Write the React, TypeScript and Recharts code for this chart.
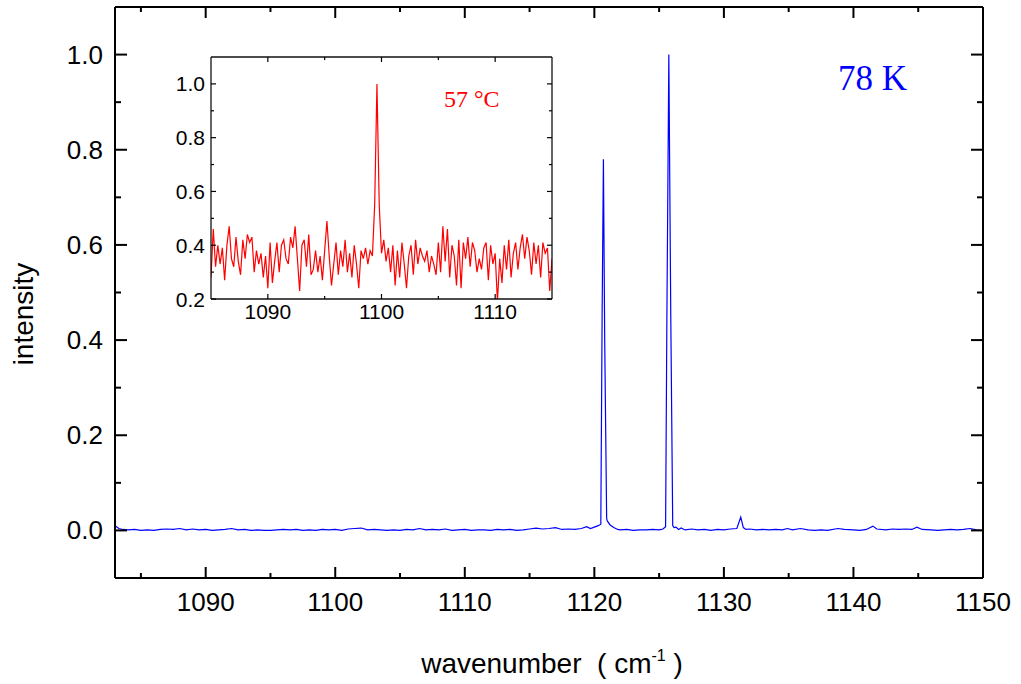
import React from 'react'
import { LineChart, Line, XAxis, YAxis } from 'recharts'

// main spectrum (78 K), wavenumber / normalised intensity
const MAIN_X = [
  1083.0, 1083.3, 1083.6, 1084.0, 1084.5, 1085.0, 1085.5, 1086.0, 1086.5, 1087.0,
  1087.5, 1088.0, 1088.5, 1089.0, 1089.5, 1090.0, 1090.5, 1091.0, 1091.5, 1092.0,
  1092.5, 1093.0, 1093.5, 1094.0, 1094.5, 1095.0, 1095.5, 1096.0, 1096.5, 1097.0,
  1097.5, 1098.0, 1098.5, 1099.0, 1099.5, 1100.0, 1100.5, 1101.0, 1101.5, 1102.0,
  1102.5, 1103.0, 1103.5, 1104.0, 1104.5, 1105.0, 1105.5, 1106.0, 1106.5, 1107.0,
  1107.5, 1108.0, 1108.5, 1109.0, 1109.5, 1110.0, 1110.5, 1111.0, 1111.5, 1112.0,
  1112.5, 1113.0, 1113.5, 1114.0, 1114.5, 1115.0, 1115.5, 1116.0, 1116.5, 1117.0,
  1117.5, 1118.0, 1118.5, 1119.0, 1119.4, 1119.7, 1120.0, 1120.3, 1120.5, 1120.6,
  1120.7, 1120.8, 1120.95, 1121.0, 1121.2, 1121.5, 1121.8, 1122.0, 1122.5, 1123.0,
  1123.5, 1124.0, 1124.5, 1125.0, 1125.3, 1125.5, 1125.6, 1125.75, 1125.9, 1126.05,
  1126.15, 1126.3, 1126.5, 1126.7, 1127.0, 1127.5, 1128.0, 1128.5, 1129.0, 1129.5,
  1130.0, 1130.5, 1131.0, 1131.3, 1131.5, 1131.7, 1132.0, 1132.5, 1133.0, 1133.5,
  1134.0, 1134.5, 1134.9, 1135.3, 1135.9, 1136.5, 1137.0, 1137.5, 1138.0, 1138.8,
  1139.3, 1140.0, 1140.5, 1141.0, 1141.5, 1141.8, 1142.5, 1143.0, 1143.5, 1144.0,
  1144.5, 1144.9, 1145.3, 1146.0, 1146.5, 1147.0, 1147.5, 1148.0, 1148.5, 1149.0,
  1149.5, 1150.0,
]
const MAIN_Y = [
  0.010, 0.004, 0.002, 0.001, 0.002, 0.000, 0.001, 0.000, 0.002, 0.003,
  0.002, 0.004, 0.001, 0.003, 0.001, 0.002, 0.000, 0.001, 0.002, 0.004,
  0.001, 0.002, 0.000, 0.001, 0.000, 0.000, 0.001, 0.002, 0.001, 0.002,
  0.000, 0.001, 0.000, 0.002, 0.001, 0.002, 0.000, 0.003, 0.004, 0.005,
  0.001, 0.002, 0.001, 0.000, 0.001, 0.000, 0.002, 0.001, 0.004, 0.001,
  0.002, 0.001, 0.003, 0.000, 0.001, 0.002, 0.000, 0.001, 0.001, 0.000,
  0.002, 0.001, 0.002, 0.000, 0.001, 0.003, 0.005, 0.003, 0.004, 0.006,
  0.002, 0.003, 0.002, 0.004, 0.008, 0.004, 0.007, 0.010, 0.013, 0.45,
  0.78, 0.40, 0.025, 0.020, 0.012, 0.006, 0.002, 0.001, 0.002, 0.000,
  0.001, 0.001, 0.002, 0.001, 0.003, 0.008, 0.45, 1.0, 0.45, 0.010,
  0.006, 0.007, 0.002, 0.005, 0.001, 0.003, 0.001, 0.002, 0.000, 0.002,
  0.001, 0.003, 0.004, 0.028, 0.006, 0.002, 0.003, 0.001, 0.002, 0.001,
  0.002, 0.001, 0.004, 0.001, 0.004, 0.001, 0.000, 0.001, 0.000, 0.004,
  0.002, 0.001, 0.000, 0.002, 0.009, 0.003, 0.001, 0.003, 0.002, 0.003,
  0.002, 0.007, 0.002, 0.001, 0.000, 0.001, 0.002, 0.001, 0.002, 0.004,
  0.001, 0.000,
]

// inset spectrum (57 °C), sampled every 0.2 cm-1 from 1085
const INSET_START = 1085
const INSET_STEP = 0.2
const INSET_Y = [
  0.28, 0.46, 0.32, 0.40, 0.33, 0.39, 0.27, 0.40, 0.47, 0.35,
  0.32, 0.43, 0.34, 0.29, 0.42, 0.35, 0.44, 0.41, 0.43, 0.30,
  0.38, 0.33, 0.37, 0.28, 0.36, 0.24, 0.41, 0.26, 0.34, 0.41,
  0.30, 0.40, 0.42, 0.35, 0.33, 0.43, 0.39, 0.47, 0.35, 0.23,
  0.40, 0.42, 0.32, 0.44, 0.29, 0.31, 0.38, 0.30, 0.36, 0.27,
  0.38, 0.49, 0.36, 0.25, 0.33, 0.41, 0.29, 0.38, 0.32, 0.42,
  0.30, 0.37, 0.28, 0.40, 0.33, 0.24, 0.38, 0.35, 0.39, 0.33,
  0.38, 0.36, 0.55, 1.00, 0.55, 0.37, 0.42, 0.34, 0.39, 0.30,
  0.40, 0.25, 0.38, 0.28, 0.41, 0.33, 0.24, 0.36, 0.40, 0.29,
  0.42, 0.33, 0.39, 0.36, 0.34, 0.38, 0.30, 0.36, 0.33, 0.29,
  0.41, 0.30, 0.47, 0.34, 0.46, 0.28, 0.40, 0.36, 0.25, 0.42,
  0.24, 0.41, 0.35, 0.43, 0.32, 0.41, 0.38, 0.30, 0.35, 0.31,
  0.39, 0.41, 0.27, 0.40, 0.33, 0.37, 0.19, 0.35, 0.26, 0.40,
  0.31, 0.42, 0.28, 0.37, 0.41, 0.31, 0.39, 0.44, 0.35, 0.43,
  0.38, 0.29, 0.41, 0.33, 0.40, 0.28, 0.41, 0.37, 0.39, 0.23,
  0.35,
]

const MAIN_X_MAJOR = [1090, 1100, 1110, 1120, 1130, 1140, 1150]
const MAIN_X_TICKS = [1085, 1090, 1095, 1100, 1105, 1110, 1115, 1120, 1125, 1130, 1135, 1140, 1145, 1150]
const MAIN_Y_MAJOR = [0, 0.2, 0.4, 0.6, 0.8, 1.0]
const MAIN_Y_TICKS = [0, 0.1, 0.2, 0.3, 0.4, 0.5, 0.6, 0.7, 0.8, 0.9, 1.0]

const INSET_X_MAJOR = [1090, 1100, 1110]
const INSET_X_TICKS = [1090, 1095, 1100, 1105, 1110]
const INSET_Y_MAJOR = [0.2, 0.4, 0.6, 0.8, 1.0]
const INSET_Y_TICKS = [0.2, 0.3, 0.4, 0.5, 0.6, 0.7, 0.8, 0.9, 1.0]

const mainData = MAIN_X.map((x, i) => ({ x, y: MAIN_Y[i] }))
const insetData = INSET_Y.map((y, i) => ({ x: +(INSET_START + i * INSET_STEP).toFixed(1), y }))

const SANS = '"Liberation Sans", Arial, sans-serif'
const SERIF = '"Liberation Serif", "Times New Roman", serif'

// inward tick marks, label only on majors
function makeTick(side: 'b' | 't' | 'l' | 'r', majors: number[], len: number, minor: number, sw: number, fs: number, gap: number, fmt: (v: number) => string) {
  return (p: any) => {
    const { x, y, payload } = p
    const major = majors.some(m => Math.abs(m - payload.value) < 1e-9)
    const l = major ? len : minor
    let line
    if (side === 'b') line = <line x1={x} x2={x} y1={y} y2={y - l} />
    else if (side === 't') line = <line x1={x} x2={x} y1={y} y2={y + l} />
    else if (side === 'l') line = <line x1={x} x2={x + l} y1={y} y2={y} />
    else line = <line x1={x} x2={x - l} y1={y} y2={y} />
    return (
      <g stroke="#000" strokeWidth={sw}>
        {line}
        {major && side === 'b' && (
          <text x={x} y={y + gap} textAnchor="middle" dominantBaseline="hanging" stroke="none" fill="#000" fontSize={fs} fontFamily={SANS}>{fmt(payload.value)}</text>
        )}
        {major && side === 'l' && (
          <text x={x - gap} y={y} textAnchor="end" dominantBaseline="central" stroke="none" fill="#000" fontSize={fs} fontFamily={SANS}>{fmt(payload.value)}</text>
        )}
      </g>
    )
  }
}

const fmtInt = (v: number) => String(v)
const fmt1 = (v: number) => v.toFixed(1)

function MainChart() {
  const ax = { stroke: '#000', strokeWidth: 2 }
  const common = { tickLine: false, tickSize: 0, tickMargin: 0, interval: 0 as const, axisLine: ax, allowDataOverflow: true }
  return (
    <LineChart width={1021} height={684} data={mainData} margin={{ top: 6, right: 37, bottom: 0, left: 0 }}>
      <XAxis xAxisId="b" dataKey="x" type="number" domain={[1083, 1150]} ticks={MAIN_X_TICKS} height={106}
        tick={makeTick('b', MAIN_X_MAJOR, 11, 5, 2, 26, 14, fmtInt)} {...common} />
      <XAxis xAxisId="t" orientation="top" dataKey="x" type="number" domain={[1083, 1150]} ticks={MAIN_X_TICKS} height={1}
        tick={makeTick('t', MAIN_X_MAJOR, 11, 5, 2, 26, 14, fmtInt)} {...common} />
      <YAxis yAxisId="l" type="number" domain={[-0.1, 1.1]} ticks={MAIN_Y_TICKS} width={115}
        tick={makeTick('l', MAIN_Y_MAJOR, 12, 6, 2, 26, 12, fmt1)} {...common} />
      <YAxis yAxisId="r" orientation="right" type="number" domain={[-0.1, 1.1]} ticks={MAIN_Y_TICKS} width={1}
        tick={makeTick('r', MAIN_Y_MAJOR, 12, 6, 2, 26, 12, fmt1)} {...common} />
      {/* invisible copy so the top/right frame axes get rendered */}
      <Line xAxisId="t" yAxisId="r" dataKey="y" stroke="none" dot={false} isAnimationActive={false} />
      <Line xAxisId="b" yAxisId="l" dataKey="y" type="linear" stroke="#0000ff" strokeWidth={1.2} dot={false} isAnimationActive={false} />
    </LineChart>
  )
}

function InsetChart() {
  const ax = { stroke: '#111', strokeWidth: 1.3 }
  const common = { tickLine: false, tickSize: 0, tickMargin: 0, interval: 0 as const, axisLine: ax, allowDataOverflow: true }
  return (
    <LineChart width={600} height={340} data={insetData} margin={{ top: 56, right: 47, bottom: 0, left: 0 }}>
      <XAxis xAxisId="b" dataKey="x" type="number" domain={[1085, 1115]} ticks={INSET_X_TICKS} height={41}
        tick={makeTick('b', INSET_X_MAJOR, 5, 3, 1.2, 21, 5, fmtInt)} {...common} />
      <XAxis xAxisId="t" orientation="top" dataKey="x" type="number" domain={[1085, 1115]} ticks={INSET_X_TICKS} height={1}
        tick={makeTick('t', INSET_X_MAJOR, 5, 3, 1.2, 21, 5, fmtInt)} {...common} />
      <YAxis yAxisId="l" type="number" domain={[0.2, 1.1]} ticks={INSET_Y_TICKS} width={211}
        tick={makeTick('l', INSET_Y_MAJOR, 5, 3, 1.2, 21, 6, fmt1)} {...common} />
      <YAxis yAxisId="r" orientation="right" type="number" domain={[0.2, 1.1]} ticks={INSET_Y_TICKS} width={1}
        tick={makeTick('r', INSET_Y_MAJOR, 5, 3, 1.2, 21, 6, fmt1)} {...common} />
      <Line xAxisId="t" yAxisId="r" dataKey="y" stroke="none" dot={false} isAnimationActive={false} />
      <Line xAxisId="b" yAxisId="l" dataKey="y" type="linear" stroke="#ff0000" strokeWidth={1.2} dot={false} isAnimationActive={false} />
    </LineChart>
  )
}

export default function App() {
  return (
    <div style={{ position: 'absolute', left: 0, top: 0, width: 1021, height: 684, background: '#fff' }}>
      <div style={{ position: 'absolute', left: 0, top: 0 }}><MainChart /></div>
      <div style={{ position: 'absolute', left: 0, top: 0 }}><InsetChart /></div>
      <svg width={1021} height={684} style={{ position: 'absolute', left: 0, top: 0, pointerEvents: 'none' }}>
        <text x={838} y={90} fontFamily={SERIF} fontSize={35} fill="#0000ff">78 K</text>
        <text x={444} y={107} fontFamily={SERIF} fontSize={24} fill="#ff0000">57 °C</text>
        <text transform="translate(33,314) rotate(-90)" textAnchor="middle" fontFamily={SANS} fontSize={28} fill="#000">intensity</text>
        <text x={552} y={673} textAnchor="middle" fontFamily={SANS} fontSize={28} fill="#000">
          wavenumber&#160;&#160;( cm<tspan dy={-12} fontSize={16}>-1</tspan><tspan dy={12}>&#160;)</tspan>
        </text>
      </svg>
    </div>
  )
}
